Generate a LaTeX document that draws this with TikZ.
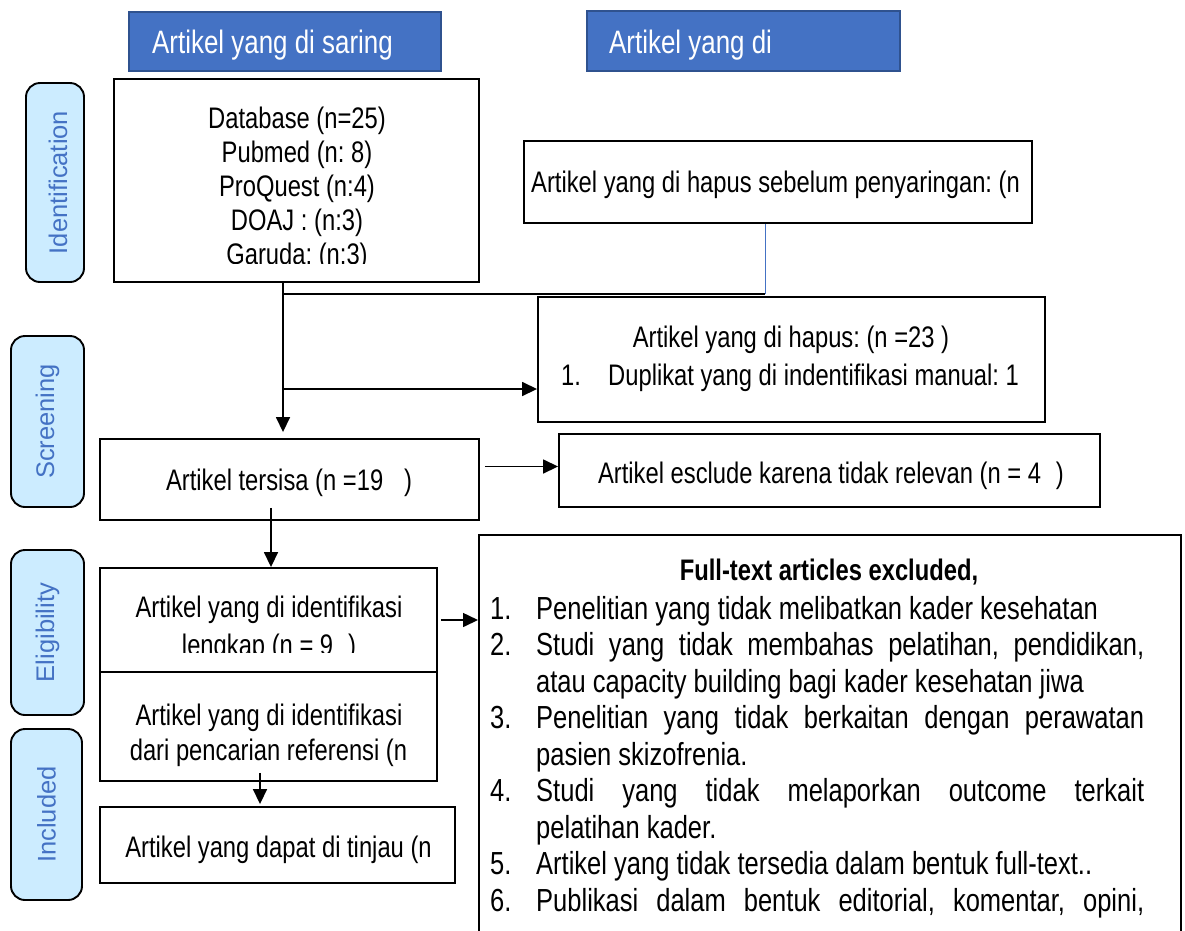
\documentclass[tikz,border=0pt]{standalone}
\usepackage{fontspec}
\setmainfont{Liberation Sans}[FakeStretch=0.8]
\newfontfamily\pillfont{Liberation Sans}
\usetikzlibrary{arrows.meta,positioning}
\definecolor{headblue}{HTML}{4472C4}
\definecolor{headedge}{HTML}{2F528F}
\definecolor{pillfill}{HTML}{CCECFF}
\definecolor{pilltext}{HTML}{4472C4}
\frenchspacing

\tikzset{
  box/.style={draw, line width=1.9pt, fill=white, inner sep=0pt},
  head/.style={draw=headedge, fill=headblue, line width=1.9pt, inner sep=0pt},
  stage/.style={draw, fill=pillfill, line width=1.9pt, rounded corners=14pt, inner sep=0pt},
  stagetext/.style={rotate=90, text=pilltext, inner sep=0pt, font=\pillfont\fontsize{25.5}{30}\selectfont},
  btext/.style={inner sep=0pt, anchor=base, font=\fontsize{29.7}{34}\selectfont},
  ltext/.style={inner sep=0pt, anchor=base west, font=\fontsize{31.9}{36.5}\selectfont},
  htext/.style={inner sep=0pt, anchor=base west, text=white, font=\fontsize{32.4}{36}\selectfont},
  arr/.style={-{Triangle[length=15pt,width=14pt]}, line width=1.6pt},
}
\newcommand{\fullline}[1]{\makebox[608pt][s]{#1}}

\begin{document}
\begin{tikzpicture}[x=1pt, y=-1pt]
    \fill[white] (0,0) rectangle (1185,930);
    \useasboundingbox (0,0) rectangle (1185,930);

    % Judul kolom
    \node[head, minimum width=312pt, minimum height=59pt] (h1) at (285,41.5) {};
    \node[htext] (h1t) at (152,53) {Artikel yang di saring};
    \node[head, minimum width=313pt, minimum height=60pt] (h2) at (743.5,41) {};
    \node[htext] (h2t) at (609,53) {Artikel yang di};

    % Tahapan
    \node[stage, minimum width=58pt, minimum height=199pt] (pid) at (55,182.5) {};
    \node[stagetext] at ([xshift=3pt]pid) {Identification};
    \node[stage, minimum width=73pt, minimum height=171pt] (pscr) at (47.5,421.5) {};
    \node[stagetext] at (pscr) {Screening};
    \node[stage, minimum width=73pt, minimum height=165pt] (pelig) at (47.5,632.5) {};
    \node[stagetext] at (pelig) {Eligibility};
    \node[stage, minimum width=71pt, minimum height=171pt] (pincl) at (46.5,814.5) {};
    \node[stagetext] at (pincl) {Included};

    % Kotak
    \node[box, minimum width=365pt, minimum height=203pt] (db) at (296.5,180.5) {};
    \node[box, minimum width=508pt, minimum height=82pt] (sebelum) at (778,182) {};
    \node[box, minimum width=507pt, minimum height=125pt] (hapus) at (791.5,359.5) {};
    \node[box, minimum width=379pt, minimum height=81pt] (tersisa) at (289.5,479.5) {};
    \node[box, minimum width=541pt, minimum height=73pt] (excl) at (829.5,470.5) {};
    \node[box, minimum width=337pt, minimum height=104pt] (ident) at (268.5,620) {};
    \node[box, minimum width=337pt, minimum height=109pt] (ref) at (268.5,726.5) {};
    \node[box, minimum width=355pt, minimum height=76pt] (tinjau) at (277.5,845) {};
    \node[box, minimum width=702pt, minimum height=430pt, anchor=north west] (full) at (478,534) {};

    % Teks kotak
    \begin{scope}
      \clip (db.north west) rectangle (479,263);
      \foreach \t [count=\i] in {{Database (n=25)}, {Pubmed (n: 8)}, {ProQuest (n:4)}, {DOAJ : (n:3)}, {Garuda: (n:3)}}
        \node[btext] (db\i) at (297,{128+34.2*(\i-1)}) {\t};
    \end{scope}
    \node[btext, anchor=base west] (sebelumt) at (531,192) {Artikel yang di hapus sebelum penyaringan: (n};
    \node[btext] (hapust) at (791,347) {Artikel yang di hapus: (n =23 )};
    \node[btext, anchor=base west] (hapusn) at (561,385) {1.};
    \node[btext, anchor=base west] (hapusa) at (608,385) {Duplikat yang di indentifikasi manual: 1};
    \node[btext] (tersisat) at (289,490) {Artikel tersisa (n =19\hspace{0.7em})};
    \node[btext] (exclt) at (831,483) {Artikel esclude karena tidak relevan (n = 4\hspace{0.5em})};
    \begin{scope}
      \clip (ident.north west) rectangle (437,652);
      \node[btext] (identa) at (269,617) {Artikel yang di identifikasi};
      \node[btext] (identb) at (269,655) {lengkap (n = 9\hspace{0.5em})};
    \end{scope}
    \node[btext] (refa) at (269,725) {Artikel yang di identifikasi};
    \node[btext] (refb) at (268.5,760) {dari pencarian referensi (n};
    \node[btext] (tinjaut) at (278.5,857) {Artikel yang dapat di tinjau (n};

    % Daftar eksklusi
    \node[inner sep=0pt, font=\bfseries\fontsize{29.7}{34}\selectfont] (fullt) at (829,572) {Full-text articles excluded,};
    \foreach \n/\y in {1/619, 2/655.5, 3/728.5, 4/801.5, 5/874.5, 6/911}
      \node[ltext] (num\n) at (490,\y) {\n.};
    \node[ltext] (l1) at (536,619) {Penelitian yang tidak melibatkan kader kesehatan};
    \node[ltext] (l2) at (536,655.5) {\fullline{Studi yang tidak membahas pelatihan, pendidikan,}};
    \node[ltext] (l2b) at (536,692) {atau capacity building bagi kader kesehatan jiwa};
    \node[ltext] (l3) at (536,728.5) {\fullline{Penelitian yang tidak berkaitan dengan perawatan}};
    \node[ltext] (l3b) at (536,765) {pasien skizofrenia.};
    \node[ltext] (l4) at (536,801.5) {\fullline{Studi yang tidak melaporkan outcome terkait}};
    \node[ltext] (l4b) at (536,838) {pelatihan kader.};
    \node[ltext] (l5) at (536,874.5) {Artikel yang tidak tersedia dalam bentuk full-text..};
    \node[ltext] (l6) at (536,911) {\fullline{Publikasi dalam bentuk editorial, komentar, opini,}};

    % Panah
    \coordinate (split) at (283,389);
    \coordinate (join) at (765,294);
    \coordinate (down) at (ident.north |- tersisa.south);
    \draw[arr, shorten >=6pt] (db.south -| split) -- (tersisa.north -| split);
    \draw[arr] (split) -- (hapus.west |- split);
    \draw[line width=1.6pt] (join -| split) -- (join);
    \draw[headblue, line width=0.8pt] (sebelum.south -| join) -- (join);
    \draw[arr] ([xshift=5pt,yshift=4pt]tersisa.east |- excl.west) -- ([yshift=4pt]excl.west);
    \draw[arr] ([xshift=2.5pt,yshift=13pt]down) -- ([xshift=2.5pt]ident.north);
    \draw[arr] ([xshift=3pt]ident.east) -- (ident.east -| full.west);
    \draw[arr] ([xshift=-8.5pt,yshift=9pt]ref.south) -- ([xshift=-8.5pt,yshift=2pt]ref.south |- tinjau.north);
\end{tikzpicture}
\end{document}
